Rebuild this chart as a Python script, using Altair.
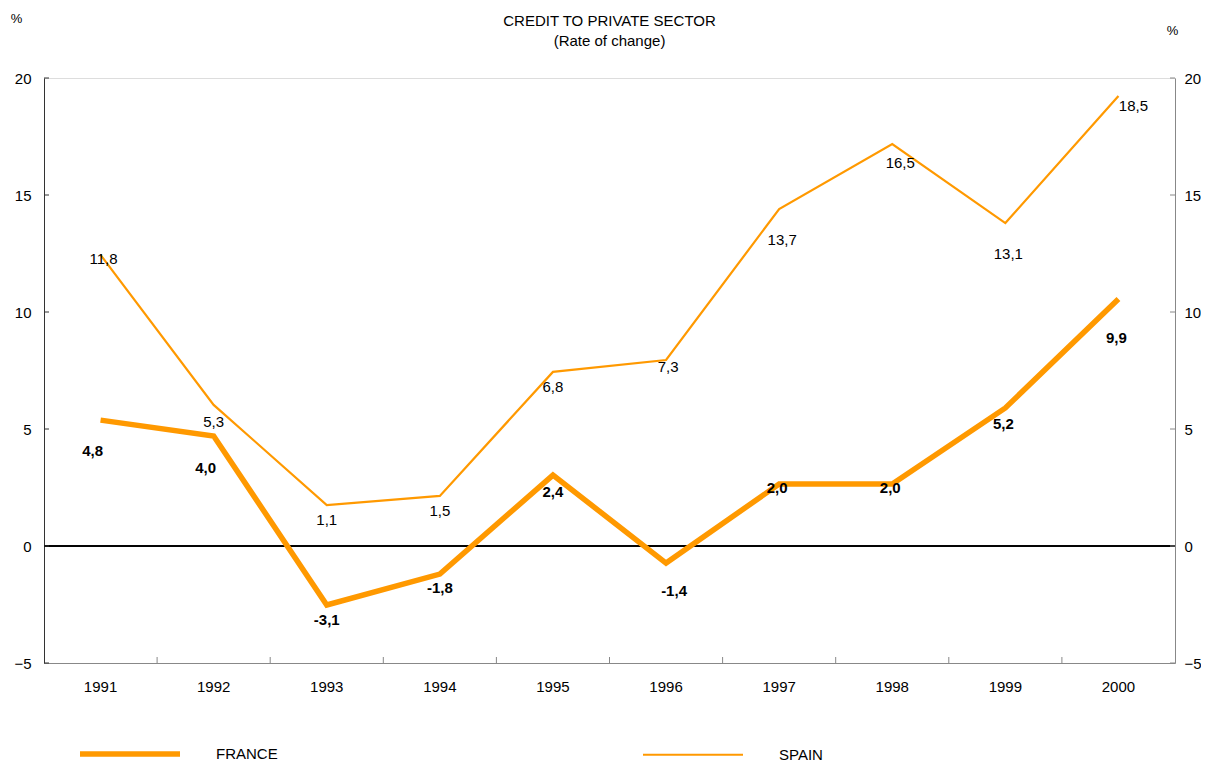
import altair as alt
import pandas as pd

FONT = "Liberation Sans"

years = ["1991", "1992", "1993", "1994", "1995", "1996", "1997", "1998", "1999", "2000"]
series_names = ["FRANCE", "SPAIN"]

# line positions as drawn in the picture (% rate of change)
france_line = [5.38, 4.70, -2.52, -1.20, 3.03, -0.73, 2.65, 2.65, 5.90, 10.56]
spain_line = [12.44, 6.03, 1.75, 2.14, 7.44, 7.95, 14.40, 17.18, 13.80, 19.23]

# printed data labels
france_labels = [4.8, 4.0, -3.1, -1.8, 2.4, -1.4, 2.0, 2.0, 5.2, 9.9]
spain_labels = [11.8, 5.3, 1.1, 1.5, 6.8, 7.3, 13.7, 16.5, 13.1, 18.5]

# annotation nudges (pixels) for the label layout
france_dx = [-8, -8, 0, 0, 0, 8, -2, -2, -2, -2]
france_dy = [17, 16, 1, 0, 2, 12, -11, -11, 0, 24]
spain_dx = [3, 0, 0, 0, 0, 2, 3, 8, 3, 15]
spain_dy = [-11, 0, 0, 0, 0, -8, 15, 3, 15, -7]

y_ticks = [-5, 0, 5, 10, 15, 20]
x_boundaries = years[1:]

W, H = 1131, 585
Y_MIN, Y_MAX = -5, 20
ORANGE = "#FF9900"
PX_PER_UNIT = H / (Y_MAX - Y_MIN)
HALF_STEP = W / len(years) / 2


def fmt(v):
    return f"{v:.1f}".replace(".", ",")


lines_df = pd.DataFrame({
    "year": years * 2,
    "series": ["FRANCE"] * len(years) + ["SPAIN"] * len(years),
    "value": france_line + spain_line,
})
fr_lab = pd.DataFrame({"year": years, "v": france_labels,
                       "txt": [fmt(v) for v in france_labels],
                       "dx": france_dx, "dy": france_dy})
sp_lab = pd.DataFrame({"year": years, "v": spain_labels,
                       "txt": [fmt(v) for v in spain_labels],
                       "dx": spain_dx, "dy": spain_dy})
yt_df = pd.DataFrame({"v": y_ticks})
xt_df = pd.DataFrame({"year": x_boundaries})

y_scale = alt.Scale(domain=[Y_MIN, Y_MAX], nice=False, zero=False)
x_scale = alt.Scale(type="band", domain=years, paddingInner=0, paddingOuter=0)
x_axis = alt.Axis(title=None, labelAngle=0, ticks=False, domainColor="#888888",
                  labelFontSize=15, labelColor="black", labelPadding=16,
                  labelFont=FONT, grid=False)

left_axis = alt.Axis(title="%", titleAngle=0, titleX=-28, titleY=-60,
                     titleAlign="center", titleBaseline="middle",
                     titleFontSize=13, titleFontWeight="normal", titleFont=FONT,
                     titleColor="black",
                     values=y_ticks, ticks=False, domainColor="#333333",
                     labelFontSize=15, labelColor="black", labelPadding=13,
                     labelFont=FONT, grid=False)
right_axis = alt.Axis(orient="right", title="%", titleAngle=0, titleX=-3, titleY=-48,
                      titleAlign="center", titleBaseline="middle",
                      titleFontSize=13, titleFontWeight="normal", titleFont=FONT,
                      titleColor="black",
                      values=y_ticks, ticks=False, domainColor="#888888",
                      labelFontSize=15, labelColor="black", labelPadding=9,
                      labelFont=FONT, grid=False)

X = alt.X("year:O", scale=x_scale, axis=x_axis)

legend = alt.Legend(title=None, orient="none", legendX=33, legendY=623,
                    direction="horizontal", columns=2,
                    symbolType="stroke", symbolSize=10000,
                    labelOffset=33, columnPadding=360,
                    labelFontSize=15, labelFont=FONT,
                    labelColor="black", padding=0)

zero = alt.Chart(yt_df).mark_rule(color="black", strokeWidth=1).encode(
    y=alt.datum(0, scale=y_scale, axis=None)
)

lines = alt.Chart(lines_df).mark_line().encode(
    x=X,
    y=alt.Y("value:Q", scale=y_scale, axis=left_axis),
    color=alt.Color("series:N", scale=alt.Scale(domain=series_names, range=[ORANGE, ORANGE]),
                    legend=legend),
    strokeWidth=alt.StrokeWidth("series:N",
                                scale=alt.Scale(domain=series_names, range=[5.5, 2.2]),
                                legend=legend),
    order=alt.Order("year:O"),
)


def label_layer(df, weight):
    return alt.Chart(df).transform_calculate(
        yv=f"datum.v - datum.dy / {PX_PER_UNIT}",
        xo=f"datum.dx + {HALF_STEP}",
    ).mark_text(font=FONT, fontSize=15, fontWeight=weight, color="black",
                align="center", baseline="middle").encode(
        x=X,
        y=alt.Y("yv:Q", scale=y_scale, axis=None),
        xOffset=alt.XOffset("xo:Q", scale=None),
        text="txt:N",
    )


sp_text = label_layer(sp_lab, "normal")
fr_text = label_layer(fr_lab, "bold")

left_ticks = alt.Chart(yt_df).mark_rule(color="#333333").encode(
    y=alt.Y("v:Q", scale=y_scale, axis=None),
    x=alt.value(0), x2=alt.value(5),
)
right_ticks = alt.Chart(yt_df).mark_rule(color="#888888").encode(
    y=alt.Y("v:Q", scale=y_scale, axis=right_axis),
    x=alt.value(W - 5), x2=alt.value(W),
)
bottom_ticks = alt.Chart(xt_df).mark_rule(color="#888888").encode(
    x=alt.X("year:O", scale=x_scale, axis=x_axis, bandPosition=0),
    y=alt.value(H - 6), y2=alt.value(H),
)

chart = alt.layer(
    zero, left_ticks, right_ticks, bottom_ticks, lines, sp_text, fr_text
).resolve_axis(y="independent").properties(
    width=W, height=H,
    title=alt.TitleParams(text="CREDIT TO PRIVATE SECTOR", subtitle="(Rate of change)",
                          anchor="middle", font=FONT, fontSize=15, fontWeight="normal",
                          color="black", subtitleFont=FONT, subtitleFontSize=15,
                          subtitleColor="black", subtitlePadding=5, offset=0, dy=37),
    autosize=alt.AutoSizeParams(type="none"),
    padding={"left": 36, "top": 70, "right": 26, "bottom": 98},
).configure_view(stroke=None).configure(background="white")

chart.save("out.html", embed_options={"renderer": "svg", "actions": False})
